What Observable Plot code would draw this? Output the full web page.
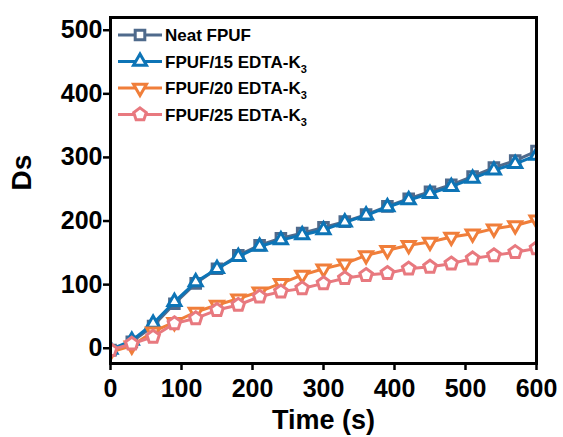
<!DOCTYPE html>
<html>
<head>
<meta charset="utf-8">
<script src="https://cdn.jsdelivr.net/npm/d3@7"></script>
<script src="https://cdn.jsdelivr.net/npm/@observablehq/plot@0.6"></script>
<style>
  html, body { margin: 0; padding: 0; background: #fff; }
</style>
</head>
<body>
<div id="chart"></div>
<script>
// ---- data ----
const time = [0,30,60,90,120,150,180,210,240,270,300,330,360,390,420,450,480,510,540,570,600];
const neat   = [-3,10,35,70,102,125,146,162,173,181,190,199,210,223,235,246,257,270,284,295,310];
const f15    = [-2,12,39,73,104,125,144,160,170,178,186,198,209,222,233,243,254,267,280,290,303];
const f20    = [-6,4,26,41,57,68,78,89,102,115,125,133,146,154,162,167,175,180,188,193,202];
const f25    = [-3,7,18,39,47,60,68,81,89,94,102,110,115,118,125,128,133,141,146,151,157];
const seriesNames = ["Neat FPUF", "FPUF/15 EDTA-K", "FPUF/20 EDTA-K", "FPUF/25 EDTA-K"];
const seriesSubs = ["", "3", "3", "3"];
const seriesColors = ["#4f6a8c", "#0d74b6", "#f07e3a", "#e8797f"];
const xTicks = [0,100,200,300,400,500,600];
const yTicks = [0,100,200,300,400,500];

// ---- custom open symbols ----
const symSquare = { draw(ctx, size) { const r = Math.sqrt(size/Math.PI)*0.8; ctx.rect(-r,-r,2*r,2*r); } };
const symTriUp = { draw(ctx, size) { const R = Math.sqrt(size/Math.PI)*1.25; const h = R*Math.sqrt(3)/2;
  ctx.moveTo(0,-R); ctx.lineTo(h,R/2); ctx.lineTo(-h,R/2); ctx.closePath(); } };
const symTriDown = { draw(ctx, size) { const R = Math.sqrt(size/Math.PI)*1.25; const h = R*Math.sqrt(3)/2;
  ctx.moveTo(0,R); ctx.lineTo(h,-R/2); ctx.lineTo(-h,-R/2); ctx.closePath(); } };
const symPent = { draw(ctx, size) { const R = Math.sqrt(size/Math.PI)*1.1;
  for (let i=0;i<5;i++){ const a = -Math.PI/2 + i*2*Math.PI/5; const px = R*Math.cos(a), py = R*Math.sin(a);
    if(i===0) ctx.moveTo(px,py); else ctx.lineTo(px,py);} ctx.closePath(); } };
const symbols = [symSquare, symTriUp, symTriDown, symPent];

const allSeries = [neat, f15, f20, f25];
const tables = allSeries.map(vals => time.map((t,i) => ({t, v: vals[i]})));

const marks = [
  Plot.axisX({ticks: xTicks, tickSize: 7, tickPadding: 9, strokeWidth: 2.5, label: null, fontSize: 25, fontWeight: "bold"}),
  Plot.axisY({ticks: yTicks, tickSize: 7, tickPadding: 1, strokeWidth: 2.5, label: null, fontSize: 25, fontWeight: "bold"}),
];
tables.forEach((tb, k) => {
  marks.push(Plot.line(tb, {x: "t", y: "v", stroke: seriesColors[k], strokeWidth: 3, clip: true}));
  marks.push(Plot.dot(tb, {x: "t", y: "v", symbol: symbols[k], r: 6, stroke: seriesColors[k], fill: "white", strokeWidth: 3, clip: true}));
});
marks.push(Plot.frame({stroke: "black", strokeWidth: 3}));
marks.push(Plot.text(["Time (s)"], {frameAnchor: "bottom", dy: 46, lineAnchor: "top", fontSize: 27, fontWeight: "bold"}));
marks.push(Plot.text(["Ds"], {frameAnchor: "left", dx: -88, rotate: -90, fontSize: 28, fontWeight: "bold"}));

const chart = Plot.plot({
  width: 563, height: 437,
  marginLeft: 110, marginRight: 27, marginTop: 17, marginBottom: 74,
  x: {domain: [0, 600]},
  y: {domain: [-24, 520]},
  style: {fontFamily: "'Liberation Sans', Arial, sans-serif", fontWeight: "bold", fontSize: "25px", color: "black", background: "white"},
  marks
});
document.getElementById("chart").appendChild(chart);

// ---- legend inside frame (top-left) ----
const svg = d3.select(chart);
const lg = svg.append("g").attr("font-family", "'Liberation Sans', Arial, sans-serif").attr("font-weight", "bold").attr("text-anchor", "start");
const x0 = 110, y0 = 17;
seriesNames.forEach((name, k) => {
  const cy = y0 + 18 + 26.5*k;
  lg.append("line").attr("x1", x0+8).attr("x2", x0+52).attr("y1", cy).attr("y2", cy)
    .attr("stroke", seriesColors[k]).attr("stroke-width", 3);
  lg.append("path").attr("d", d3.symbol(symbols[k], Math.PI*36)())
    .attr("transform", `translate(${x0+30},${cy})`)
    .attr("fill", "white").attr("stroke", seriesColors[k]).attr("stroke-width", 3);
  const t = lg.append("text").attr("x", x0+55).attr("y", cy).attr("dy", "0.36em").attr("font-size", 17).attr("fill", "black").attr("text-anchor", "start").text(name);
  if (seriesSubs[k]) t.append("tspan").attr("font-size", 11).attr("dy", 5).text(seriesSubs[k]);
});
</script>
</body>
</html>
